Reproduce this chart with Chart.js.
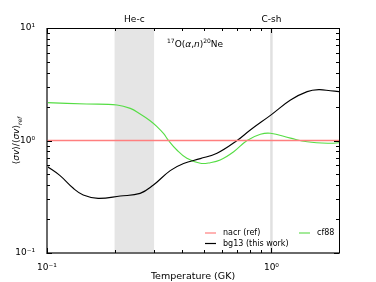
<!DOCTYPE html>
<html>
<head>
<meta charset="utf-8">
<script src="https://cdn.jsdelivr.net/npm/chart.js@4"></script>
<style>
  html, body { margin: 0; padding: 0; background: #fff; }
  #wrap { width: 376px; height: 282px; }
</style>
</head>
<body>
<div id="wrap"><canvas id="grafico" width="376" height="282"></canvas></div>
<script>
// dados
var tempNacr = [0.1, 2.0];
var nacr = [1.0, 1.0];

var tempBg13 = [0.1, 0.114, 0.131, 0.145, 0.169, 0.212, 0.26, 0.297, 0.354, 0.406, 0.482, 0.572, 0.703, 0.805, 1.0, 1.216, 1.443, 1.626, 1.83, 2.0];
var bg13 = [0.59, 0.49, 0.376, 0.328, 0.306, 0.321, 0.339, 0.40, 0.54, 0.625, 0.69, 0.77, 1.0, 1.24, 1.70, 2.29, 2.72, 2.83, 2.77, 2.72];

var tempCf88 = [0.1, 0.15, 0.205, 0.235, 0.26, 0.288, 0.309, 0.331, 0.348, 0.379, 0.42, 0.482, 0.534, 0.591, 0.679, 0.779, 0.893, 0.99, 1.216, 1.443, 1.83, 2.0];
var cf88 = [2.17, 2.11, 2.07, 1.93, 1.72, 1.50, 1.33, 1.15, 1.0, 0.823, 0.694, 0.627, 0.635, 0.67, 0.795, 1.0, 1.135, 1.16, 1.05, 0.975, 0.945, 0.955];

var bandHeC = [0.2, 0.3];
var lineCsh = 1.0;
var xTicksMajor = [0.1, 1];
var yTicksMajor = [0.1, 1, 10];

var FONT = '"DejaVu Sans", sans-serif';
var sup = { '-': '⁻', '0': '⁰', '1': '¹' };

function pontos(xs, ys) {
    return xs.map(function (x, i) { return { x: x, y: ys[i] }; });
}
function rotuloPot(v) {
    var e = Math.round(Math.log10(v));
    if (Math.abs(v - Math.pow(10, e)) > 1e-9 * v) return '';
    return '10' + String(e).split('').map(function (c) { return sup[c]; }).join('');
}
function ticksLog(min, max) {
    var out = [];
    for (var e = -2; e <= 2; e++) {
        for (var m = 1; m <= 9; m++) {
            var v = m * Math.pow(10, e);
            if (v >= min * 0.9999 && v <= max * 1.0001) out.push({ v: v, major: m === 1 });
        }
    }
    return out;
}

// faixas e eixos desenhados à mão
var fundo = {
    id: 'fundo',
    beforeDatasetsDraw: function (chart) {
        var c = chart.ctx, a = chart.chartArea, x = chart.scales.x;
        c.save();
        c.fillStyle = '#e5e5e5';
        var x0 = x.getPixelForValue(bandHeC[0]), x1 = x.getPixelForValue(bandHeC[1]);
        c.fillRect(x0, a.top, x1 - x0, a.bottom - a.top);
        c.strokeStyle = '#e0e0e0';
        c.lineWidth = 2.5;
        var xc = x.getPixelForValue(lineCsh);
        c.beginPath(); c.moveTo(xc, a.top); c.lineTo(xc, a.bottom); c.stroke();
        c.fillStyle = '#000';
        c.font = '9px ' + FONT;
        c.textAlign = 'center';
        c.textBaseline = 'alphabetic';
        c.fillText('He-c', (x0 + x1) / 2, a.top - 6);
        c.fillText('C-sh', xc, a.top - 6);
        c.restore();
    },
    afterDatasetsDraw: function (chart) {
        var c = chart.ctx, a = chart.chartArea, x = chart.scales.x, y = chart.scales.y;
        var L = Math.round(a.left), R = Math.round(a.right), T = Math.round(a.top), B = Math.round(a.bottom);
        c.save();
        // bordas superior e direita
        c.strokeStyle = '#000';
        c.lineWidth = 1;
        c.beginPath();
        c.moveTo(L, T + 0.5); c.lineTo(R + 0.5, T + 0.5);
        c.moveTo(R + 0.5, T); c.lineTo(R + 0.5, B);
        c.stroke();
        // bordas esquerda e inferior (mais grossas, cinza)
        c.strokeStyle = '#6a6a6a';
        c.lineWidth = 2;
        c.beginPath();
        c.moveTo(L, T); c.lineTo(L, B + 1);
        c.moveTo(L - 1, B); c.lineTo(R + 1, B);
        c.stroke();
        // marcas internas
        c.strokeStyle = '#000';
        c.lineWidth = 1;
        c.beginPath();
        ticksLog(0.1, 2).forEach(function (t) {
            var px = Math.round(x.getPixelForValue(t.v)) + 0.5, n = t.major ? 5 : 3;
            c.moveTo(px, B); c.lineTo(px, B - n);
            c.moveTo(px, T); c.lineTo(px, T + n);
        });
        ticksLog(0.1, 10).forEach(function (t) {
            var py = Math.round(y.getPixelForValue(t.v)) + 0.5, n = t.major ? 5 : 3;
            c.moveTo(L, py); c.lineTo(L + n, py);
            c.moveTo(R, py); c.lineTo(R - n, py);
        });
        c.stroke();

        // título da reação
        var tx = 167, ty = a.top + 19;
        c.fillStyle = '#000';
        c.textBaseline = 'alphabetic';
        c.textAlign = 'left';
        var partes = [
            ['17', '6px ' + FONT, -4], ['O(', '9px ' + FONT, 0], ['α', 'italic 9px ' + FONT, 0],
            [',', '9px ' + FONT, 0], ['n', 'italic 9px ' + FONT, 0], [')', '9px ' + FONT, 0],
            ['20', '6px ' + FONT, -4], ['Ne', '9px ' + FONT, 0]
        ];
        partes.forEach(function (p) {
            c.font = p[1];
            c.fillText(p[0], tx, ty + p[2]);
            tx += c.measureText(p[0]).width;
        });

        // legenda
        var itens = [
            { t: 'nacr (ref)', cor: '#ff7f7f', x: 205, y: 233 },
            { t: 'bg13 (this work)', cor: '#000000', x: 205, y: 243.5 },
            { t: 'cf88', cor: '#66dd55', x: 299, y: 233 }
        ];
        c.font = '8px ' + FONT;
        c.textBaseline = 'middle';
        itens.forEach(function (it) {
            c.strokeStyle = it.cor;
            c.lineWidth = 1.2;
            c.beginPath(); c.moveTo(it.x, it.y); c.lineTo(it.x + 11, it.y); c.stroke();
            c.fillText(it.t, it.x + 18, it.y);
        });

        // rótulo do eixo y
        c.translate(17, (a.top + a.bottom) / 2);
        c.rotate(-Math.PI / 2);
        var seg = [
            ['⟨', '9px ' + FONT, 0], ['σv', 'italic 9px ' + FONT, 0], ['⟩/⟨', '9px ' + FONT, 0],
            ['σv', 'italic 9px ' + FONT, 0], ['⟩', '9px ' + FONT, 0], ['ref', 'italic 6px ' + FONT, 3]
        ];
        var w = 0;
        seg.forEach(function (s) { c.font = s[1]; w += c.measureText(s[0]).width; });
        var sx = -w / 2;
        c.textBaseline = 'middle';
        seg.forEach(function (s) {
            c.font = s[1];
            c.fillText(s[0], sx, s[2]);
            sx += c.measureText(s[0]).width;
        });
        c.restore();
    }
};

var ctx = document.getElementById('grafico').getContext('2d');
var grafico = new Chart(ctx, {
    type: 'line',
    data: {
        datasets: [{
            label: 'nacr (ref)',
            data: pontos(tempNacr, nacr),
            borderColor: '#ff7f7f',
            borderWidth: 1.5
        }, {
            label: 'bg13 (this work)',
            data: pontos(tempBg13, bg13),
            borderColor: '#000000',
            borderWidth: 1.1
        }, {
            label: 'cf88',
            data: pontos(tempCf88, cf88),
            borderColor: '#55dd44',
            borderWidth: 1.1
        }]
    },
    options: {
        responsive: false,
        animation: false,
        events: [],
        layout: { padding: { top: 28, right: 37, left: 0, bottom: 0 } },
        elements: {
            point: { radius: 0 },
            line: { tension: 0.4, fill: false }
        },
        plugins: { legend: { display: false }, tooltip: { enabled: false } },
        scales: {
            x: {
                type: 'logarithmic',
                min: 0.1,
                max: 2,
                grid: { display: false },
                border: { display: false },
                afterFit: function (s) { s.height = 29; },
                afterBuildTicks: function (s) {
                    s.ticks = xTicksMajor.map(function (v) { return { value: v }; });
                },
                ticks: {
                    autoSkip: false,
                    maxRotation: 0,
                    padding: 1,
                    color: '#000',
                    font: { family: FONT, size: 9 },
                    callback: function (v) { return rotuloPot(v); }
                },
                title: {
                    display: true,
                    text: 'Temperature (GK)',
                    color: '#000',
                    padding: { top: 0, bottom: 0 },
                    font: { family: FONT, size: 9.5 }
                }
            },
            y: {
                type: 'logarithmic',
                min: 0.1,
                max: 10,
                grid: { display: false },
                border: { display: false },
                afterFit: function (s) { s.width = 47; },
                afterBuildTicks: function (s) {
                    s.ticks = yTicksMajor.map(function (v) { return { value: v }; });
                },
                ticks: {
                    autoSkip: false,
                    padding: 4,
                    color: '#000',
                    font: { family: FONT, size: 9 },
                    callback: function (v) { return rotuloPot(v); }
                }
            }
        }
    },
    plugins: [fundo]
});
</script>
</body>
</html>
